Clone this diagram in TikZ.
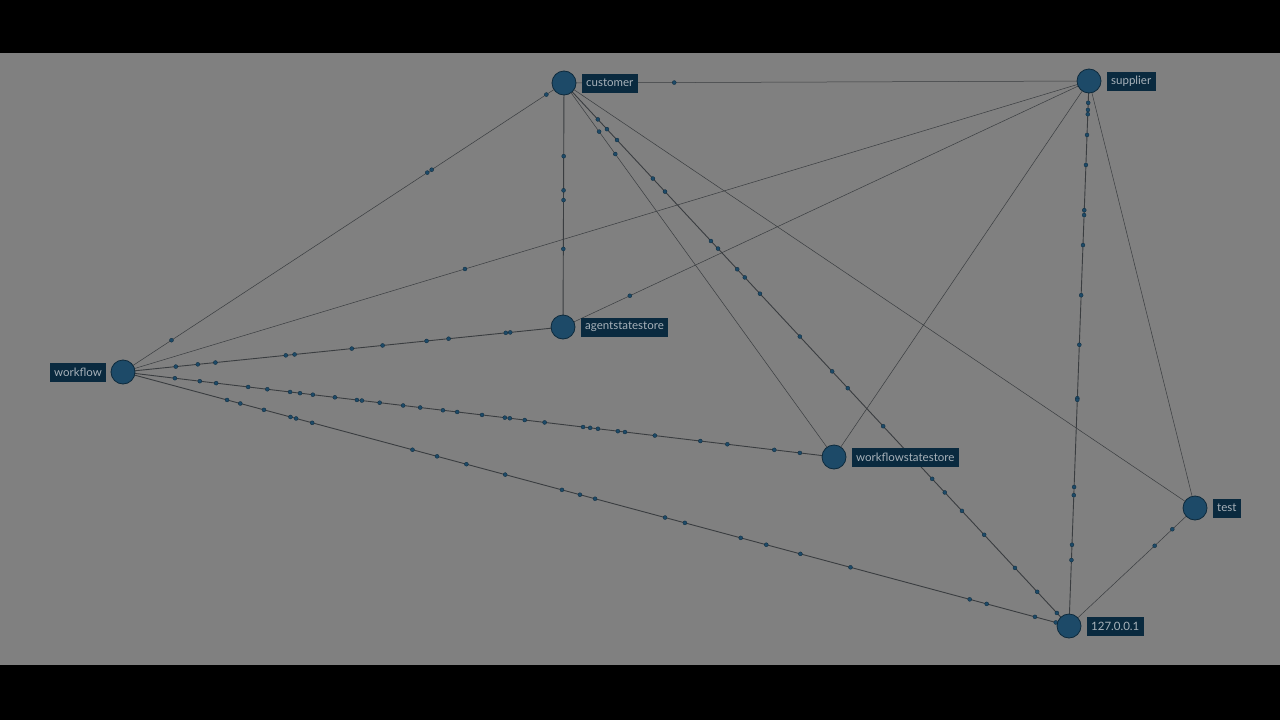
\documentclass[tikz,border=0pt]{standalone}
\usepackage{fontspec}
\setmainfont{Lato}
\usetikzlibrary{positioning}

\definecolor{bggray}{HTML}{808080}
\definecolor{nodeblue}{HTML}{1D4A68}
\definecolor{nodeline}{HTML}{0E2A3C}
\definecolor{tagblue}{HTML}{0A2A3F}
\definecolor{tagtext}{HTML}{A8B2BA}
\definecolor{linkgray}{HTML}{3A3D40}

\begin{document}
\begin{tikzpicture}[x=1pt, y=-1pt, line width=0.5pt,
	host/.style={circle, draw=nodeline, fill=nodeblue, line width=0.8pt, minimum size=24pt, inner sep=0pt},
	tag/.style={fill=tagblue, text=tagtext, inner xsep=4.5pt, inner ysep=3pt, minimum height=19pt, font=\fontsize{11.5}{13}\selectfont},
	link/.style={draw=linkgray, line width=0.5pt},
	heavy/.style={draw=linkgray, line width=0.9pt},
	pkt/.style={circle, fill=nodeblue, draw=nodeline, line width=0.3pt, minimum size=4pt, inner sep=0pt}]

	\useasboundingbox (0,0) rectangle (1280,720);
	\fill[black]  (0,0)  rectangle (1280,720);
	\fill[bggray] (0,53) rectangle (1280,665);

	% connectors first, hosts on top
	\coordinate (c1) at (564,83);
	\coordinate (c2) at (1089,81);
	\coordinate (c3) at (563,327);
	\coordinate (c4) at (123,372);
	\coordinate (c5) at (834,457);
	\coordinate (c6) at (1195,508);
	\coordinate (c7) at (1069,626);

	\path[link]
		(c4) edge (c1)
		(c4) edge (c2)
		(c1) edge (c2)
		(c1) edge (c5)
		(c1) edge (c6)
		(c2) edge (c3)
		(c2) edge (c5)
		(c2) edge (c6)
		(c6) edge (c7);
	\path[heavy]
		(c4) edge (c3)
		(c4) edge (c5)
		(c4) edge (c7)
		(c1) edge (c3)
		(c1) edge (c7)
		(c2) edge (c7);

	% traffic dots
	\foreach \p in {0.11,0.69,0.70,0.96}
		\path (c4) -- (c1) node[pkt,pos=\p]{};
	\path (c4) -- (c2) node[pkt,pos=0.354]{};
	\path (c1) -- (c2) node[pkt,pos=0.21]{};
	\path (c2) -- (c3) node[pkt,pos=0.873]{};
	\foreach \p in {0.12,0.17,0.21,0.37,0.39,0.52,0.59,0.69,0.74,0.87,0.88}
		\path (c4) -- (c3) node[pkt,pos=\p]{};
	\foreach \p in {0.073,0.108,0.131,0.176,0.203,0.235,0.249,0.267,0.298,0.329,0.336,0.361,0.394,0.418,0.450,0.470,0.505,0.537,0.544,0.565,0.593,0.647,0.657,0.668,0.696,0.706,0.748,0.812,0.850,0.916,0.952}
		\path (c4) -- (c5) node[pkt,pos=\p]{};
	\foreach \p in {0.110,0.124,0.149,0.177,0.183,0.200,0.306,0.332,0.363,0.404,0.464,0.483,0.499,0.573,0.594,0.653,0.680,0.716,0.769,0.895,0.913,0.964,0.986}
		\path (c4) -- (c7) node[pkt,pos=\p]{};
	\foreach \p in {0.30,0.44,0.48,0.68}
		\path (c1) -- (c3) node[pkt,pos=\p]{};
	\foreach \p in {0.13,0.19}
		\path (c1) -- (c5) node[pkt,pos=\p]{};
	\foreach \p in {0.067,0.085,0.105,0.176,0.200,0.291,0.305,0.343,0.358,0.388,0.467,0.531,0.562,0.632,0.729,0.754,0.788,0.832,0.893,0.937,0.976}
		\path (c1) -- (c7) node[pkt,pos=\p]{};
	\foreach \p in {0.040,0.053,0.061,0.099,0.154,0.237,0.246,0.301,0.393,0.484,0.582,0.585,0.745,0.760,0.851,0.879}
		\path (c2) -- (c7) node[pkt,pos=\p]{};
	\foreach \p in {0.18,0.32}
		\path (c6) -- (c7) node[pkt,pos=\p]{};

	% hosts
	\node[host] (cust) at (c1) {};
	\node[host] (supp) at (c2) {};
	\node[host] (agst) at (c3) {};
	\node[host] (wflo) at (c4) {};
	\node[host] (wfst) at (c5) {};
	\node[host] (test) at (c6) {};
	\node[host] (locl) at (c7) {};

	% labels
	\node[tag] (custlbl) [right=5pt of cust] {customer};
	\node[tag] (supplbl) [right=5pt of supp] {supplier};
	\node[tag] (agstlbl) [right=5pt of agst] {agentstatestore};
	\node[tag] (wflolbl) [left=4pt of wflo]  {workflow};
	\node[tag] (wfstlbl) [right=5pt of wfst] {workflowstatestore};
	\node[tag] (testlbl) [right=5pt of test] {test};
	\node[tag] (localbl) [right=5pt of locl] {127.0.0.1};
\end{tikzpicture}
\end{document}
